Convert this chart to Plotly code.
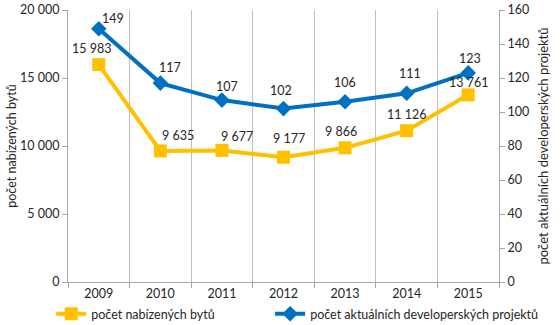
import plotly.graph_objects as go

years = ["2009", "2010", "2011", "2012", "2013", "2014", "2015"]
flats = [15983, 9635, 9677, 9177, 9866, 11126, 13761]
projects = [149, 117, 107, 102, 106, 111, 123]

flats_name = "počet nabízených bytů"
projects_name = "počet aktuálních developerských projektů"

YELLOW = "#FFC000"
BLUE = "#0070C0"
FONT = "Lato"
TXT = "#262626"
FS = 12.5

# label offsets (pixels) relative to each point
flats_dx = [-7, 18, 15, 5, -4, 0, 0]
flats_dy = [16, 15, 14, 19, 16, 16, 12]
proj_dx = [14, 10, 5, -3, 0, 3, 2]
proj_dy = [10, 16, 14, 18, 19, 20, 14]


def fmt(v):
    return f"{v:,}".replace(",", " ")


fig = go.Figure()
fig.add_trace(go.Scatter(
    x=years, y=flats, name=flats_name, mode="lines+markers",
    line=dict(color=YELLOW, width=4),
    marker=dict(symbol="square", size=13, color=YELLOW),
    yaxis="y", legend="legend",
))
fig.add_trace(go.Scatter(
    x=years, y=projects, name=projects_name, mode="lines+markers",
    line=dict(color=BLUE, width=4),
    marker=dict(symbol="diamond", size=12, color=BLUE),
    yaxis="y2", legend="legend2",
))

for i, (v, dx, dy) in enumerate(zip(flats, flats_dx, flats_dy)):
    fig.add_annotation(x=i, y=v, xref="x", yref="y", text=fmt(v), showarrow=False,
                       xshift=dx, yshift=dy, font=dict(family=FONT, size=FS, color=TXT))
for i, (v, dx, dy) in enumerate(zip(projects, proj_dx, proj_dy)):
    fig.add_annotation(x=i, y=v, xref="x", yref="y2", text=fmt(v), showarrow=False,
                       xshift=dx, yshift=dy, font=dict(family=FONT, size=FS, color=TXT))

axis_line = "#A6A6A6"
grid = "#BFBFBF"

leg_common = dict(orientation="h", y=-0.118, xanchor="left", yanchor="middle",
                  font=dict(family=FONT, size=FS, color=TXT),
                  itemwidth=30, bgcolor="rgba(0,0,0,0)")

fig.update_layout(
    width=560, height=325,
    margin=dict(l=68, r=61, t=10, b=43, autoexpand=False),
    paper_bgcolor="white", plot_bgcolor="white",
    separators=", ",
    font=dict(family=FONT, size=FS, color=TXT),
    showlegend=True,
    legend=dict(x=-0.039, **leg_common),
    legend2=dict(x=0.469, **leg_common),
    xaxis=dict(type="category", tickson="boundaries", ticks="outside", ticklen=5,
               tickcolor=axis_line, showgrid=True, gridcolor=grid, gridwidth=1,
               showline=True, linecolor=axis_line, linewidth=1,
               tickfont=dict(family=FONT, size=FS, color=TXT),
               range=[-0.5, 6.5]),
    yaxis=dict(range=[0, 20000], dtick=5000, tickformat=",", ticks="outside", ticklen=5,
               tickcolor=axis_line, showgrid=False, zeroline=False,
               showline=True, linecolor=axis_line, linewidth=1,
               title=dict(text=flats_name, font=dict(family=FONT, size=FS, color=TXT), standoff=0),
               tickfont=dict(family=FONT, size=FS, color=TXT)),
    yaxis2=dict(range=[0, 160], dtick=20, overlaying="y", side="right", ticks="outside", ticklen=5,
                tickcolor=axis_line, showgrid=False, zeroline=False,
                showline=True, linecolor=axis_line, linewidth=1,
                title=dict(text=projects_name, font=dict(family=FONT, size=13, color=TXT), standoff=10),
                tickfont=dict(family=FONT, size=FS, color=TXT)),
)

fig.write_html("out.html")
